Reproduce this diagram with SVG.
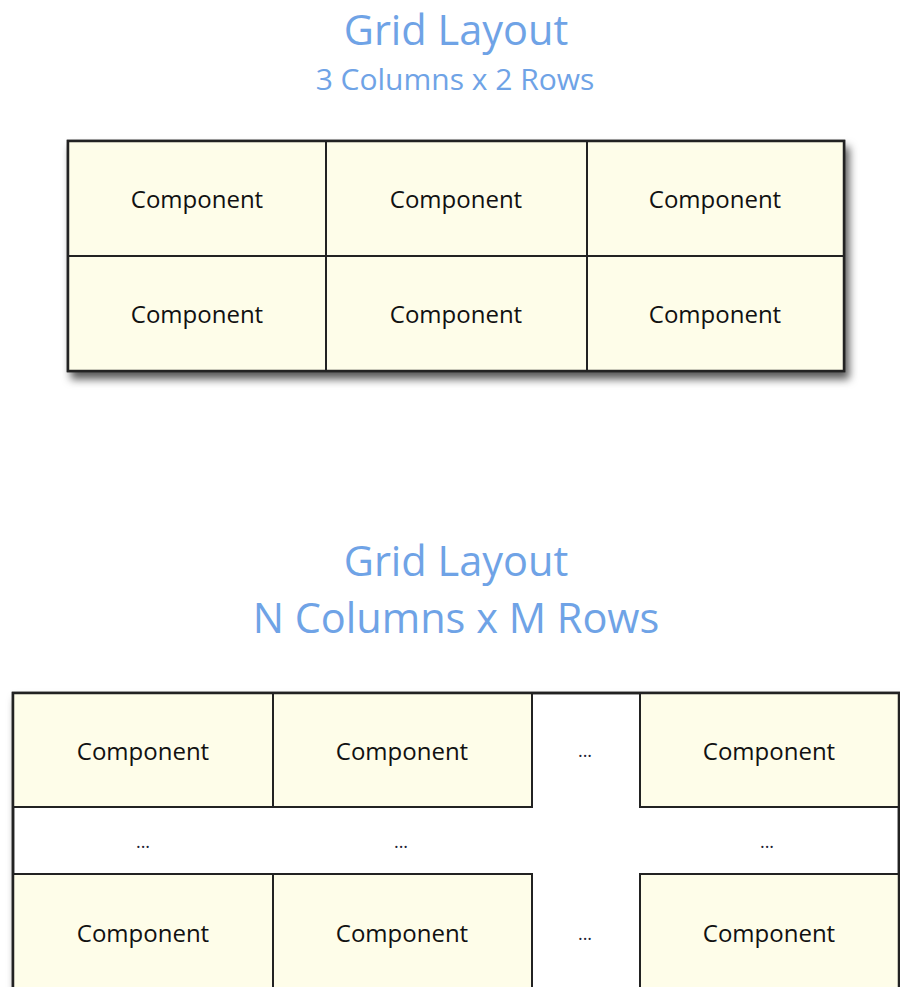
<svg xmlns="http://www.w3.org/2000/svg" width="900" height="987" viewBox="0 0 900 987">
<defs>
<style>
.title{font-family:"Open Sans","Noto Sans",sans-serif;fill:#6fa3e6;text-anchor:middle;font-weight:500}
.t1{font-size:41.5px}
.t2{font-size:30px}
.lbl{font-family:"Open Sans","Noto Sans",sans-serif;font-size:24px;fill:#111;text-anchor:middle}
.dots{font-family:"Open Sans","Noto Sans",sans-serif;font-size:18px;fill:#223;text-anchor:middle}
.cell{fill:#fefde9;stroke:#222;stroke-width:2}
.frame{stroke:#222;stroke-width:2.5}
</style>
<filter id="sh" x="-5%" y="-10%" width="115%" height="135%">
<feDropShadow dx="4" dy="7" stdDeviation="4" flood-color="#000" flood-opacity="0.65"/>
</filter>
</defs>
<rect width="900" height="987" fill="#fff"/>
<g id="title-top">
<text class="title t1" x="456" y="45">Grid Layout</text>
<text class="title t2" x="455" y="90">3 Columns x 2 Rows</text>
</g>
<g id="grid-top">
<rect class="frame" x="68" y="141" width="776" height="230" fill="#fefde9" filter="url(#sh)"/>
<g id="c11"><rect class="cell" x="68" y="141" width="258" height="115"/><text class="lbl" x="197" y="208">Component</text></g>
<g id="c12"><rect class="cell" x="326" y="141" width="261" height="115"/><text class="lbl" x="456" y="208">Component</text></g>
<g id="c13"><rect class="cell" x="587" y="141" width="257" height="115"/><text class="lbl" x="715" y="208">Component</text></g>
<g id="c21"><rect class="cell" x="68" y="256" width="258" height="115"/><text class="lbl" x="197" y="323">Component</text></g>
<g id="c22"><rect class="cell" x="326" y="256" width="261" height="115"/><text class="lbl" x="456" y="323">Component</text></g>
<g id="c23"><rect class="cell" x="587" y="256" width="257" height="115"/><text class="lbl" x="715" y="323">Component</text></g>
<rect x="68" y="141" width="776" height="230" fill="none" class="frame"/>
</g>
<g id="title-bottom">
<text class="title t1" x="456" y="576">Grid Layout</text>
<text class="title t1" x="456" y="633">N Columns x M Rows</text>
</g>
<g id="grid-bottom">
<rect class="frame" x="13" y="693" width="886" height="310" fill="#fff" filter="url(#sh)"/>
<g id="b11"><rect class="cell" x="13" y="693" width="260" height="114"/><text class="lbl" x="143" y="760">Component</text></g>
<g id="b12"><rect class="cell" x="273" y="693" width="259" height="114"/><text class="lbl" x="402" y="760">Component</text></g>
<g id="b1n"><text class="dots" x="585" y="757">...</text></g>
<g id="b14"><rect class="cell" x="640" y="693" width="259" height="114"/><text class="lbl" x="769" y="760">Component</text></g>
<g id="bm1"><text class="dots" x="143" y="848">...</text></g>
<g id="bm2"><text class="dots" x="401" y="848">...</text></g>
<g id="bm4"><text class="dots" x="767" y="848">...</text></g>
<g id="b31"><rect class="cell" x="13" y="874" width="260" height="130"/><text class="lbl" x="143" y="942">Component</text></g>
<g id="b32"><rect class="cell" x="273" y="874" width="259" height="130"/><text class="lbl" x="402" y="942">Component</text></g>
<g id="b3n"><text class="dots" x="585" y="940">...</text></g>
<g id="b34"><rect class="cell" x="640" y="874" width="259" height="130"/><text class="lbl" x="769" y="942">Component</text></g>
<rect x="13" y="693" width="886" height="310" fill="none" class="frame"/>
</g>
<g id="connectors"/>
</svg>
